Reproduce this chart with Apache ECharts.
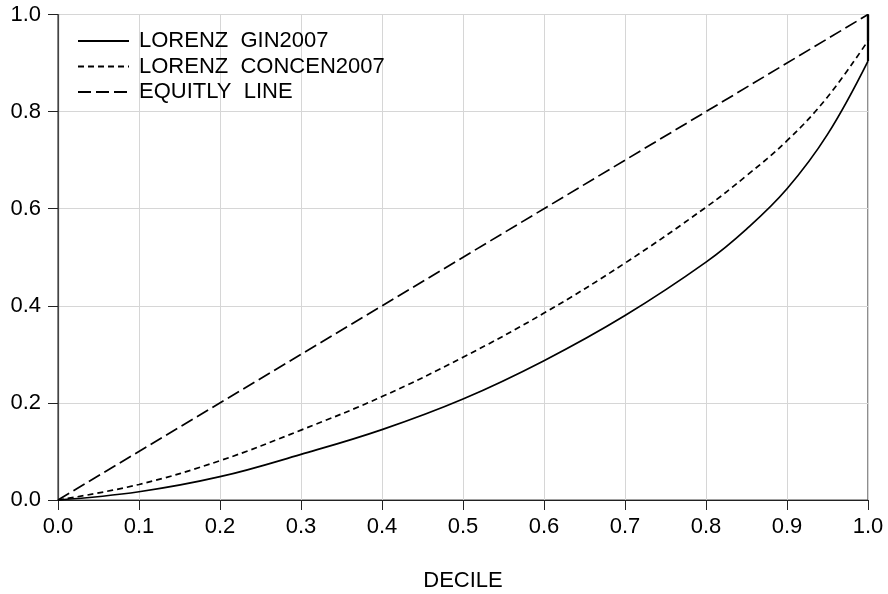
<!DOCTYPE html>
<html>
<head>
<meta charset="utf-8">
<script src="https://cdn.jsdelivr.net/npm/echarts@6/dist/echarts.min.js"></script>
<style>
  html, body { margin: 0; padding: 0; background: #fff; }
  #chart { width: 888px; height: 594px; }
</style>
</head>
<body>
<div id="chart"></div>
<script>
// population share (x) where the curves were read
const shares = [0, 0.1, 0.2, 0.3, 0.4, 0.5, 0.6, 0.7, 0.8, 0.85, 0.9, 0.95, 1.0];
// cumulative shares
const gini2007 = [0, 0.017, 0.048, 0.094, 0.145, 0.208, 0.287, 0.380, 0.490, 0.558, 0.641, 0.753, 0.904];
const concen2007 = [0, 0.032, 0.081, 0.144, 0.213, 0.294, 0.385, 0.488, 0.603, 0.668, 0.740, 0.830, 0.946];
// equity line end points
const equityX = [0, 1];
const equityY = [0, 1];
const seriesNames = ["LORENZ  GIN2007", "LORENZ  CONCEN2007", "EQUITLY  LINE"];

const font = "Liberation Sans, Arial, sans-serif";
const last = shares.length - 1;

function pairs(xs, ys) {
  return xs.map((x, i) => [x, ys[i]]);
}

// the two curves jump up to 1.0 at the last decile
function jump(ys) {
  return {
    type: "line",
    data: [[shares[last], ys[last]], [shares[last], 1.0]],
    symbol: "none",
    silent: true,
    lineStyle: { color: "#000", width: 2.2 },
  };
}

const myChart = echarts.init(document.getElementById("chart"));
const option = {
  animation: false,
  grid: {
    left: 58,
    right: 20,
    top: 14.5,
    bottom: 94,
    outerBoundsMode: "none",
    show: true,
    borderColor: "#444",
    borderWidth: 1.2,
  },
  legend: {
    orient: "vertical",
    left: 72,
    top: 25,
    itemWidth: 51,
    itemHeight: 12,
    itemGap: 3.5,
    itemStyle: { opacity: 0 },
    textStyle: { fontFamily: font, fontSize: 22, lineHeight: 22, color: "#000", padding: [0, 0, 0, 5] },
    data: seriesNames,
  },
  xAxis: {
    type: "value",
    min: 0,
    max: 1,
    interval: 0.1,
    name: "DECILE",
    nameLocation: "middle",
    nameGap: 70,
    nameTextStyle: { fontFamily: font, fontSize: 22, color: "#000" },
    axisLine: { lineStyle: { color: "#222", width: 1.2 } },
    axisTick: { length: 10, lineStyle: { color: "#222" } },
    axisLabel: {
      fontFamily: font,
      fontSize: 22,
      color: "#000",
      margin: 16,
      formatter: (v) => v.toFixed(1),
    },
    splitLine: { lineStyle: { color: "#d6d6d6", width: 1 } },
  },
  yAxis: {
    type: "value",
    min: 0,
    max: 1,
    interval: 0.2,
    axisLine: { show: true, lineStyle: { color: "#444", width: 1.2 } },
    axisTick: { show: true, length: 10, lineStyle: { color: "#222" } },
    axisLabel: {
      fontFamily: font,
      fontSize: 22,
      color: "#000",
      margin: 17,
      formatter: (v) => v.toFixed(1),
    },
    splitLine: { lineStyle: { color: "#d6d6d6", width: 1 } },
  },
  series: [
    {
      name: seriesNames[0],
      type: "line",
      data: pairs(shares, gini2007),
      symbol: "none",
      smooth: 0.4,
      lineStyle: { color: "#000", width: 1.7, type: "solid" },
      itemStyle: { color: "#000" },
    },
    {
      name: seriesNames[1],
      type: "line",
      data: pairs(shares, concen2007),
      symbol: "none",
      smooth: 0.4,
      lineStyle: { color: "#000", width: 1.7, type: [6, 4] },
      itemStyle: { color: "#000" },
    },
    {
      name: seriesNames[2],
      type: "line",
      data: pairs(equityX, equityY),
      symbol: "none",
      lineStyle: { color: "#000", width: 1.7, type: [13, 5] },
      itemStyle: { color: "#000" },
    },
    jump(gini2007),
    jump(concen2007),
  ],
};
myChart.setOption(option);
window.addEventListener("resize", function () {
  myChart.resize();
});
</script>
</body>
</html>
